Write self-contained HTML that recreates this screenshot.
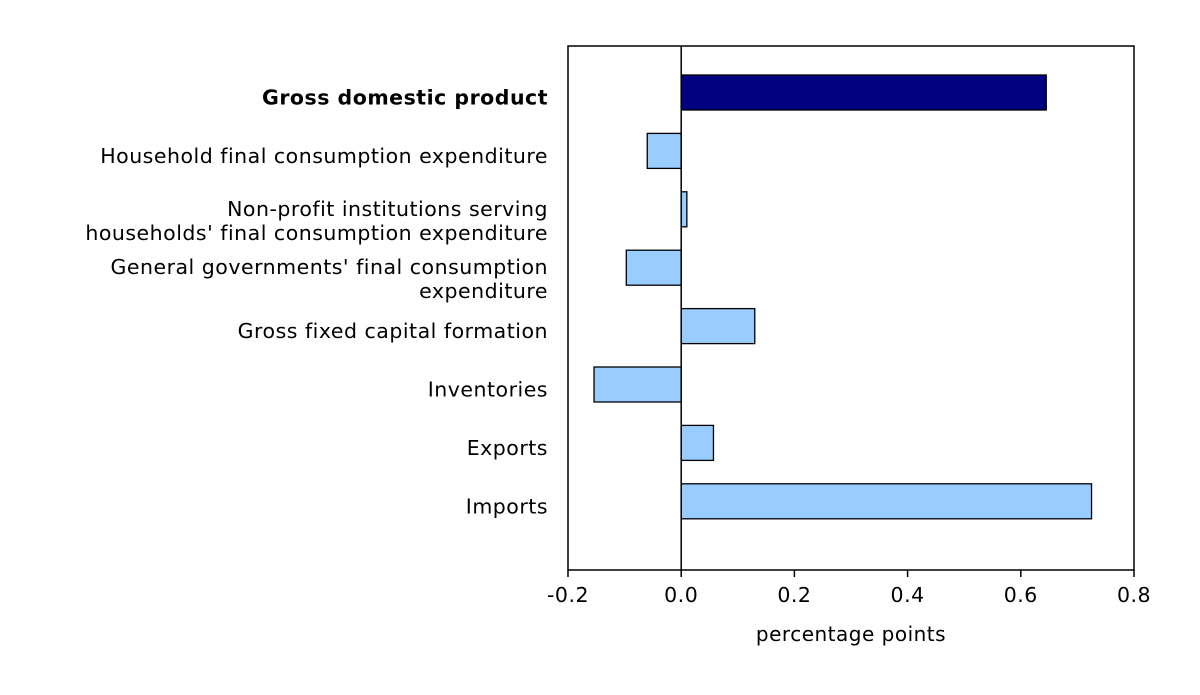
<!DOCTYPE html>
<html><head><meta charset="utf-8"><style>
body{margin:0;background:#fff}
svg text{font-family:"DejaVu Sans","Liberation Sans",sans-serif;fill:#000;letter-spacing:0.5px}
</style></head><body>
<svg width="1200" height="690" id="c">
<rect x="568" y="46" width="566" height="524" fill="none" stroke="#000" stroke-width="1.5"/>
<g id="bars"></g><g id="labels"></g><g id="ticks"></g>
<text x="851" y="641" font-size="20" text-anchor="middle">percentage points</text>
</svg>
<script>
const categories=[["Gross domestic product"],["Household final consumption expenditure"],["Non-profit institutions serving","households' final consumption expenditure"],["General governments' final consumption","expenditure"],["Gross fixed capital formation"],["Inventories"],["Exports"],["Imports"]];
const values=[0.645,-0.06,0.01,-0.097,0.13,-0.154,0.057,0.725];
const tickValues=[-0.2,0,0.2,0.4,0.6,0.8];
const tickLabels=["-0.2","0.0","0.2","0.4","0.6","0.8"];
const NS="http://www.w3.org/2000/svg";
const x=v=>568+(v+0.2)*566;
const y=i=>92.5+i*58.4;
function mk(t,a,p){const e=document.createElementNS(NS,t);for(const k in a)e.setAttribute(k,a[k]);p.appendChild(e);return e;}
const bg=document.getElementById('bars'),lg=document.getElementById('labels'),tg=document.getElementById('ticks');
values.forEach((v,i)=>{const x0=Math.min(x(0),x(v)),w=Math.abs(x(v)-x(0));
const r=mk('rect',{x:x0,y:y(i)-17.5,width:w,height:35,fill:i==0?'#000080':'#99ccff',stroke:'#000','stroke-width':1.3},bg);


const lines=categories[i];
lines.forEach((s,j)=>{const t=mk('text',{x:548,y:y(i)+(lines.length==1?12:6.5)+j*24,'font-size':20.5,'text-anchor':'end','font-weight':i==0?'bold':'normal'},lg);t.textContent=s;

});
});
const zl=mk('line',{x1:x(0),x2:x(0),y1:46,y2:570,stroke:'#000','stroke-width':1.5},tg);


tickValues.forEach((v,i)=>{const l=mk('line',{x1:x(v),x2:x(v),y1:570,y2:577,stroke:'#000','stroke-width':1.5},tg);


const t=mk('text',{x:x(v),y:602,'font-size':20.5,'text-anchor':'middle'},tg);t.textContent=tickLabels[i];

});
</script>
</body></html>
